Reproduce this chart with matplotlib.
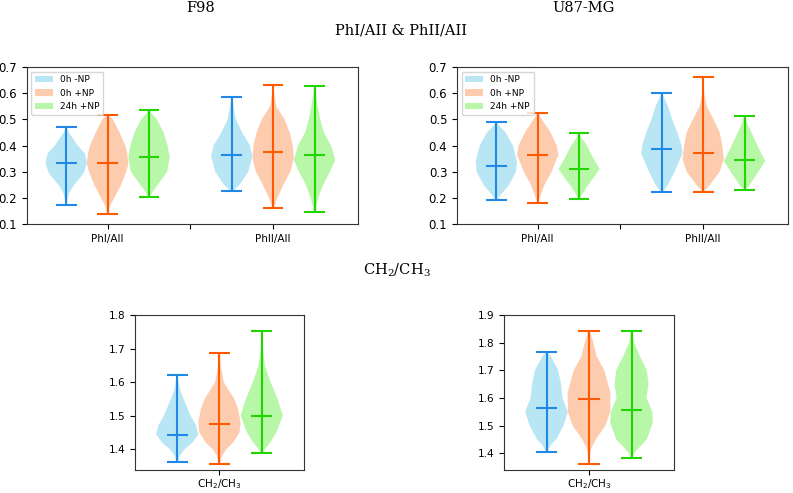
import matplotlib
matplotlib.use("Agg")
import matplotlib.pyplot as plt
from matplotlib.patches import Patch

# groups / labels
labels = ["0h -NP", "0h +NP", "24h +NP"]
fill_cols = ["#b9e6f4", "#fdcbad", "#b8f7a8"]
line_cols = ["#2088e6", "#ff5a00", "#22d400"]

# each violin: (min, median, max, [(y, relative half-width), ...])
# F98  PhI/AII
f98_ph1 = [
    (0.172, 0.333, 0.470, [(0.172, 0.03), (0.20, 0.08), (0.22, 0.15), (0.25, 0.38), (0.28, 0.7), (0.30, 0.88), (0.335, 1.0), (0.37, 0.9), (0.40, 0.55), (0.43, 0.3), (0.45, 0.12), (0.47, 0.03)]),
    (0.140, 0.332, 0.515, [(0.14, 0.03), (0.17, 0.12), (0.20, 0.32), (0.25, 0.65), (0.30, 0.9), (0.33, 1.0), (0.37, 0.95), (0.40, 0.85), (0.45, 0.57), (0.50, 0.25), (0.515, 0.05)]),
    (0.205, 0.358, 0.535, [(0.205, 0.04), (0.22, 0.15), (0.25, 0.42), (0.30, 0.88), (0.355, 1.0), (0.40, 0.9), (0.45, 0.7), (0.50, 0.38), (0.52, 0.15), (0.535, 0.03)]),
]
# F98  PhII/AII
f98_ph2 = [
    (0.226, 0.363, 0.587, [(0.226, 0.05), (0.25, 0.38), (0.30, 0.8), (0.36, 1.0), (0.40, 0.88), (0.45, 0.5), (0.50, 0.2), (0.55, 0.08), (0.587, 0.03)]),
    (0.161, 0.374, 0.631, [(0.161, 0.03), (0.20, 0.2), (0.25, 0.5), (0.30, 0.83), (0.35, 1.0), (0.40, 0.95), (0.45, 0.8), (0.50, 0.55), (0.55, 0.15), (0.60, 0.05), (0.631, 0.03)]),
    (0.146, 0.362, 0.627, [(0.146, 0.03), (0.20, 0.18), (0.25, 0.42), (0.30, 0.75), (0.345, 1.0), (0.40, 0.8), (0.45, 0.45), (0.50, 0.28), (0.55, 0.15), (0.60, 0.06), (0.627, 0.03)]),
]
# U87-MG  PhI/AII
u87_ph1 = [
    (0.193, 0.321, 0.488, [(0.193, 0.05), (0.21, 0.2), (0.22, 0.3), (0.25, 0.62), (0.30, 0.95), (0.34, 1.0), (0.40, 0.8), (0.45, 0.45), (0.47, 0.2), (0.488, 0.03)]),
    (0.180, 0.362, 0.523, [(0.18, 0.03), (0.20, 0.1), (0.25, 0.33), (0.30, 0.67), (0.365, 1.0), (0.40, 0.92), (0.45, 0.62), (0.50, 0.2), (0.523, 0.03)]),
    (0.197, 0.309, 0.447, [(0.197, 0.04), (0.22, 0.2), (0.25, 0.45), (0.31, 1.0), (0.35, 0.7), (0.40, 0.38), (0.43, 0.12), (0.447, 0.03)]),
]
# U87-MG  PhII/AII
u87_ph2 = [
    (0.221, 0.385, 0.602, [(0.221, 0.03), (0.25, 0.3), (0.30, 0.62), (0.37, 1.0), (0.40, 0.95), (0.45, 0.75), (0.50, 0.5), (0.55, 0.3), (0.58, 0.12), (0.602, 0.03)]),
    (0.221, 0.370, 0.663, [(0.221, 0.03), (0.235, 0.15), (0.25, 0.33), (0.30, 0.8), (0.35, 1.0), (0.40, 0.92), (0.45, 0.8), (0.50, 0.5), (0.55, 0.17), (0.60, 0.05), (0.663, 0.03)]),
    (0.231, 0.344, 0.514, [(0.231, 0.04), (0.25, 0.25), (0.30, 0.67), (0.34, 1.0), (0.40, 0.62), (0.45, 0.33), (0.48, 0.15), (0.514, 0.03)]),
]
# CH2/CH3
f98_ch = [
    (1.362, 1.443, 1.620, [(1.362, 0.03), (1.38, 0.12), (1.40, 0.35), (1.42, 0.73), (1.445, 1.0), (1.47, 0.9), (1.50, 0.63), (1.55, 0.3), (1.58, 0.12), (1.62, 0.03)]),
    (1.356, 1.476, 1.6875, [(1.356, 0.03), (1.38, 0.12), (1.40, 0.32), (1.42, 0.65), (1.45, 0.95), (1.48, 1.0), (1.52, 0.88), (1.55, 0.7), (1.60, 0.2), (1.65, 0.06), (1.6875, 0.03)]),
    (1.388, 1.500, 1.751, [(1.388, 0.04), (1.40, 0.15), (1.42, 0.4), (1.45, 0.7), (1.50, 1.0), (1.55, 0.75), (1.60, 0.42), (1.65, 0.15), (1.70, 0.05), (1.751, 0.03)]),
]
u87_ch = [
    (1.406, 1.565, 1.767, [(1.406, 0.04), (1.43, 0.2), (1.45, 0.45), (1.50, 0.8), (1.55, 1.0), (1.60, 0.75), (1.65, 0.68), (1.70, 0.55), (1.75, 0.2), (1.767, 0.03)]),
    (1.361, 1.597, 1.8435, [(1.361, 0.03), (1.40, 0.06), (1.42, 0.12), (1.45, 0.32), (1.50, 0.77), (1.55, 1.0), (1.62, 1.0), (1.70, 0.72), (1.75, 0.36), (1.80, 0.2), (1.8435, 0.03)]),
    (1.382, 1.555, 1.8435, [(1.382, 0.04), (1.40, 0.12), (1.42, 0.35), (1.45, 0.72), (1.51, 1.0), (1.55, 0.98), (1.60, 0.7), (1.65, 0.8), (1.70, 0.72), (1.75, 0.4), (1.80, 0.12), (1.8435, 0.03)]),
]

serif = "DejaVu Serif"


def make_stats(v):
    mn, med, mx, shape = v
    return {"coords": [p[0] for p in shape], "vals": [p[1] for p in shape],
            "mean": med, "median": med, "min": mn, "max": mx}


def draw(ax, groups, positions):
    for grp, pos in zip(groups, positions):
        for i in range(3):
            parts = ax.violin([make_stats(grp[i])], positions=[pos[i]], widths=1.0,
                              showmeans=False, showmedians=True, showextrema=True)
            for b in parts["bodies"]:
                b.set_facecolor(fill_cols[i])
                b.set_edgecolor("none")
                b.set_alpha(1)
            for k in ["cbars", "cmins", "cmaxes", "cmedians"]:
                parts[k].set_color(line_cols[i])
                parts[k].set_linewidth(1.5)


plt.rcParams["font.size"] = 7.5
fig = plt.figure(figsize=(7.93, 4.93), dpi=100)

ax1 = fig.add_axes([0.034, 0.5456, 0.4174, 0.3185])
ax2 = fig.add_axes([0.5763, 0.5456, 0.4174, 0.3185])
ax3 = fig.add_axes([0.1702, 0.046, 0.2131, 0.315])
ax4 = fig.add_axes([0.6356, 0.046, 0.2144, 0.315])

draw(ax1, [f98_ph1, f98_ph2], [[1, 2, 3], [5, 6, 7]])
draw(ax2, [u87_ph1, u87_ph2], [[1, 2, 3], [5, 6, 7]])
draw(ax3, [f98_ch], [[1, 2, 3]])
draw(ax4, [u87_ch], [[1, 2, 3]])

for ax in [ax1, ax2]:
    ax.set_xlim(0.05, 8.05)
    ax.set_ylim(0.1, 0.7)
    ax.set_xticks([2, 4, 6])
    ax.set_xticklabels(["PhI/AII", "", "PhII/AII"])
    ax.tick_params(axis="y", labelsize=8.5)
    handles = [Patch(facecolor=c, label=l) for c, l in zip(fill_cols, labels)]
    ax.legend(handles=handles, loc="upper left", fontsize=6.5)

ax3.set_ylim(1.337, 1.8)
ax4.set_ylim(1.338, 1.9)
for ax in [ax3, ax4]:
    ax.set_xlim(0, 4)
    ax.set_xticks([2])
    ax.set_xticklabels(["CH$_2$/CH$_3$"])
    ax.tick_params(axis="x", pad=1.5)

for ax in [ax1, ax2, ax3, ax4]:
    for s in ax.spines.values():
        s.set_color("#333333")

fig.text(201 / 793, 1 - 8 / 493, "F98", family=serif, fontsize=10.5, ha="center", va="center")
fig.text(584 / 793, 1 - 8 / 493, "U87-MG", family=serif, fontsize=10.5, ha="center", va="center")
fig.text(401 / 793, 1 - 30 / 493, "PhI/AII & PhII/AII", family=serif, fontsize=10.5, ha="center", va="center")
fig.text(397 / 793, 1 - 270 / 493, "CH$_2$/CH$_3$", family=serif, fontsize=10.5, ha="center", va="center",
         math_fontfamily="dejavuserif")

fig.savefig("out.png", dpi=100)
